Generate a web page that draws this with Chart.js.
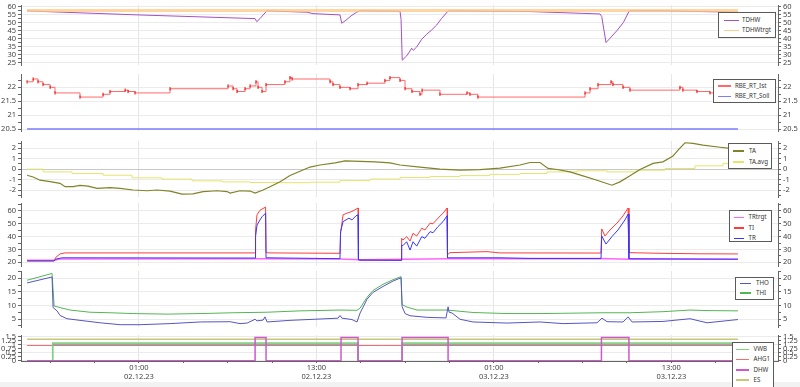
<!DOCTYPE html>
<html>
<head>
<meta charset="utf-8">
<title>Heizung</title>
<script src="https://cdn.jsdelivr.net/npm/chart.js@4.4.1/dist/chart.umd.min.js"></script>
<style>
  html, body { margin: 0; padding: 0; width: 800px; height: 387px; overflow: hidden; background: #f2f2f2; }
  #wrap { position: relative; width: 800px; height: 382px; background: #fff; }
  #wrap canvas { position: absolute; left: 0; }
  .lg { position: absolute; background: #fff; border: 1px solid #5a5a5a; box-sizing: border-box; font: 6.2px "Noto Sans", sans-serif; color: #333; z-index: 5; }
  .lg .t { position: absolute; white-space: nowrap; height: 10px; line-height: 10px; }
  .lg .s { position: absolute; height: 1.5px; }
</style>
</head>
<body>
<div id="wrap"></div>
<script>
// x = hours since 01.12.23 17:26
var startClock = 17 + 26 / 60;
var xMin = -0.41, xMax = 50.78;

// TDHW / TDHWtrgt
var tdhw = [[0,57.3],[7.5,54.8],[15.42,52.5],[15.53,50.6],[15.75,52.5],[16.21,57.3],[18.91,56.5],[19.34,55.6],
  [21.16,54.8],[21.28,49.6],[21.57,51.5],[21.91,54.2],[22.29,56.5],[22.51,57.3],[25.22,57.1],[25.29,52],
  [25.37,26.5],[25.67,29.2],[25.9,32.3],[26.01,34],[26.12,32.7],[26.35,34.8],[26.69,39.6],[27.02,42.7],
  [27.36,45.4],[27.7,48.5],[28.04,52.7],[28.48,57.3],[34.01,56.9],[38.74,55.4],[38.86,53.8],[39.15,37.5],
  [39.42,40.2],[39.87,44.8],[40.32,50],[40.72,57.3],[43,57.3],[48.07,56.5]];
var tdhwTrgt = [[0,57.5],[48.07,57.5]];

// RBE_RT_Ist / RBE_RT_Soll
var rbeIst = [[0,22.2],[0.41,22.3],[0.74,22.2],[1.08,22.1],[1.56,22.0],[1.89,21.8],[3.58,21.65],[5.14,21.75],
  [5.61,21.85],[6.63,21.9],[6.83,21.85],[7.3,21.8],[9.67,21.95],[13.59,22.05],[13.93,21.95],[14.2,21.85],
  [14.74,21.95],[15.08,22.05],[15.48,22.2],[15.62,22.0],[15.89,21.85],[16.16,22.1],[17.44,22.2],[17.78,22.35],
  [17.92,22.3],[20.49,22.2],[20.69,22.1],[21.16,22.0],[21.84,21.95],[22.38,22.1],[22.99,22.15],[24.2,22.25],
  [24.54,22.35],[25.22,22.25],[25.56,21.95],[26.03,21.85],[26.57,21.75],[26.71,21.9],[27.92,21.75],[29.75,21.8],
  [29.95,21.75],[30.49,21.65],[37.73,21.8],[38.07,21.95],[38.61,22.1],[39.49,22.2],[39.62,22.1],[40.3,22.0],
  [40.77,21.9],[44.15,22.0],[44.35,21.9],[45.3,21.85],[46.18,21.8],[48.07,21.8]];
var rbeSoll = [[0,20.5],[48.07,20.5]];

// TA / TA.avg
var ta = [[0,-0.58],[0.41,-0.75],[0.88,-1.06],[1.56,-1.2],[2.23,-1.36],[2.57,-1.68],[3.11,-1.68],[3.58,-1.55],
  [4.12,-1.62],[4.73,-1.84],[5.61,-1.78],[6.29,-1.84],[7.17,-2.0],[8.11,-2.07],[8.79,-2.0],[9.67,-2.1],
  [10.48,-2.4],[11.22,-2.37],[11.9,-2.15],[12.85,-2.07],[13.52,-2.15],[13.73,-2.3],[14.4,-2.07],[15.08,-2.1],
  [15.42,-2.3],[15.96,-2.0],[16.43,-1.68],[17.11,-1.2],[17.78,-0.6],[18.46,-0.2],[19.13,0.2],[19.81,0.4],
  [20.83,0.6],[21.5,0.8],[22.52,0.75],[23.53,0.7],[24.54,0.6],[25.22,0.4],[26.57,0.2],[27.92,0.0],
  [29.28,-0.1],[30.63,-0.05],[31.98,0.1],[33.33,0.4],[34.01,0.64],[34.69,0.64],[35.23,0.07],[35.84,-0.03],
  [36.71,-0.26],[37.59,-0.64],[38.54,-1.06],[39.55,-1.54],[40.09,-1.22],[40.77,-0.64],[41.45,-0.03],
  [42.33,0.55],[43,0.7],[43.68,1.25],[44.02,1.83],[44.49,2.53],[45.03,2.47],[45.71,2.3],[46.86,2.1],
  [47.53,2.0],[48.07,1.95]];
var taAvg = [[0,0.0],[1.08,-0.26],[3.04,-0.42],[5.14,-0.58],[7.1,-0.83],[9.13,-0.96],[11.16,-1.12],[13.18,-1.22],
  [15.08,-1.28],[17.11,-1.3],[19.13,-1.25],[21.16,-1.1],[23.19,-0.95],[25.22,-0.8],[27.25,-0.7],[29.28,-0.62],
  [31.3,-0.5],[33.33,-0.42],[35.16,-0.26],[37.19,-0.16],[39.22,-0.26],[41.24,-0.1],[43.14,0.06],[45.17,0.32],
  [47.06,0.55],[48.07,0.55]];

// TRtrgt / TI / TR
var trTrgt = [[0,21.5],[1.83,21.5],[2.23,22.5],[15.42,22.8],[21.16,22.5],[22.51,22.0],[25.36,22.4],[28.6,22.8],
  [38.74,22.9],[40.77,22.4],[48.07,22.3]];
var ti = [[0,21.2],[1.83,21.2],[1.96,24],[2.23,26.5],[2.57,27.3],[15.42,27.3],[15.45,45],[15.55,57],[15.75,60.5],
  [15.89,61.5],[16.13,63],[16.16,27.5],[16.43,27.3],[21.16,27.0],[21.2,42.6],[21.37,57],[21.64,58.3],[21.97,59.6],
  [22.18,61],[22.38,62.3],[22.41,22],[22.51,21.6],[25.29,21.6],[25.33,38.7],[25.42,37.3],[25.67,40],[25.9,36.5],
  [26.1,42.6],[26.35,40.5],[26.69,46.5],[26.91,45.2],[27.25,50.5],[27.45,50],[27.79,54.4],[28.13,58.3],
  [28.4,62.3],[28.43,26],[28.6,27.5],[31.1,28.3],[31.98,27.3],[38.81,27.2],[38.86,46],[39.08,40.5],[39.42,45.2],
  [39.89,50.5],[40.3,56.2],[40.64,62.3],[40.7,27.5],[42.8,27],[45.5,26.6],[48.07,26.5]];
var tr = [[0,21],[1.83,21],[1.96,22.5],[2.37,23.5],[15.42,23.3],[15.45,40],[15.55,49],[15.75,53],[15.89,55.5],
  [16.13,58.3],[16.16,23.5],[21.16,22.8],[21.2,43.9],[21.37,51.7],[21.77,54.4],[21.97,53],[22.24,56.2],[22.38,57],
  [22.41,21.8],[25.29,21.5],[25.33,33.4],[25.42,33],[25.67,36],[25.9,29.5],[26.1,36],[26.35,32.6],[26.69,40],
  [26.91,38.7],[27.25,43.9],[27.45,43],[27.79,47.8],[28.13,51.7],[28.4,56.2],[28.43,23.5],[31.98,23.5],
  [34.01,23.0],[38.81,22.9],[38.86,40.5],[39.15,34.2],[39.55,40],[39.96,45.2],[40.43,53],[40.64,57.5],
  [40.7,22.8],[44.15,22.6],[48.07,22.4]];

// THO / THI
var tho = [[0,18.3],[1.69,20.5],[1.76,9.2],[2.03,8],[2.23,6.3],[2.7,5.1],[3.58,4.5],[4.94,3.6],[6.29,2.9],
  [7.64,2.9],[9.67,3.3],[11.7,3.9],[13.73,4.0],[14.4,3.3],[14.88,3.5],[15.42,4.9],[15.55,4.3],[15.96,4.6],
  [16.09,5.8],[16.23,3.9],[17.78,4.5],[19.81,5.0],[21.03,5.3],[21.16,6.3],[21.3,5.3],[21.97,4.8],[22.31,3.9],
  [22.38,5.0],[22.52,7.2],[22.99,12.3],[23.39,14.8],[24.07,17],[24.75,19],[25.29,20.2],[25.36,9.6],[25.56,7],
  [25.9,6.2],[27.05,5.6],[28.33,5.4],[28.47,9.5],[28.54,7.5],[28.74,7.2],[29.28,4.9],[30.16,3.9],[32.45,3.5],
  [34.69,3.9],[36.24,3.3],[38.54,3.6],[38.88,5.3],[39.22,4.0],[40.3,3.9],[40.64,5.8],[40.91,3.9],[43,4.1],
  [44.83,5.1],[45.98,3.6],[48.07,4.8]];
var thi = [[0,19.3],[1.69,21.8],[1.83,9.8],[2.23,9.2],[2.91,8.3],[4.26,7.5],[5.61,7.3],[7.17,7.0],[9.47,6.8],
  [11.7,7.0],[13.93,7.3],[16.23,7.5],[18.46,8.0],[21.16,8.3],[22.31,8.2],[22.52,9.0],[22.99,13],[23.39,15.5],
  [24.07,17.8],[24.75,19.5],[25.29,20.6],[25.36,10.3],[25.69,9.4],[26.37,8.3],[28.4,8.3],[30.16,7.4],
  [32.45,7.0],[34.69,7.0],[38.88,7.3],[40.77,7.3],[43,7.7],[44.83,8.3],[45.98,8.1],[48.07,8.0]];

// VWB / AHG1 / DHW / ES
var vwb = [[0,0],[1.73,1.12],[22.38,0],[25.36,1.12],[48.07,1.12]];
var vd1 = [[0,0],[1.73,1.05],[22.38,0],[25.36,1.05],[48.07,1.05]];
var ahg1 = [[0,0.96],[48.07,0.96]];
var dhw = [[0,0],[15.42,1.47],[16.16,0],[21.23,1.47],[22.38,0],[25.36,1.47],[28.47,0],[38.84,1.47],[40.7,0],[48.07,0]];
var es = [[0,1.36],[48.07,1.36]];

Chart.defaults.font.family = "'Noto Sans', sans-serif";
Chart.defaults.font.size = 7.5;
Chart.defaults.color = '#444';

var wrap = document.getElementById('wrap');

function pts(a) { return a.map(function (p) { return { x: p[0], y: p[1] }; }); }
function isMult(v, s) { return Math.abs(v / s - Math.round(v / s)) < 1e-6; }
function line(label, data, color, width, extra) {
  var d = { label: label, data: pts(data), borderColor: color, borderWidth: width, pointRadius: 0, tension: 0, fill: false };
  for (var k in extra) d[k] = extra[k];
  return d;
}

var xTicks = [];
for (var c = 19; c - startClock <= xMax; c += 3) xTicks.push(c - startClock);
function xLabel(v) {
  var c = Math.round(v + startClock);
  if ((c - 1) % 12 !== 0) return '';
  var hh = c % 24, day = 1 + Math.floor(c / 24);
  return [(hh < 10 ? '0' : '') + hh + ':00', '0' + day + '.12.23'];
}

function xAxis(bottom) {
  return {
    type: 'linear', min: xMin, max: xMax,
    afterBuildTicks: function (s) { s.ticks = xTicks.map(function (v) { return { value: v }; }); },
    afterFit: function (s) { s.height = bottom ? 26 : 0; s.paddingLeft = 0; s.paddingRight = 0; },
    ticks: { display: bottom, autoSkip: false, maxRotation: 0, padding: 0, font: { lineHeight: 1.25 }, callback: xLabel },
    grid: {
      drawTicks: bottom, tickLength: 2, tickColor: '#666',
      color: function (ctx) { return ctx.tick && xLabel(ctx.tick.value) !== '' ? '#e6e6e6' : 'rgba(0,0,0,0)'; }
    },
    border: { display: bottom, color: '#666' }
  };
}

function yAxis(p, pos) {
  return {
    position: pos, min: p.min, max: p.max,
    afterBuildTicks: function (s) {
      var t = [];
      for (var v = Math.ceil(p.min / p.minor - 1e-9) * p.minor; v <= p.max + 1e-9; v += p.minor)
        t.push({ value: Math.round(v * 1000) / 1000 });
      s.ticks = t;
    },
    afterFit: function (s) { s.width = pos === 'left' ? 21 : 22; s.paddingTop = 0; s.paddingBottom = 0; },
    ticks: {
      autoSkip: false, padding: 2,
      callback: function (v) { return isMult(v, p.major) ? String(+v.toFixed(2)) : ''; }
    },
    grid: {
      drawOnChartArea: pos === 'left', tickLength: 3, tickColor: '#666',
      color: function (ctx) {
        if (!ctx.tick || !isMult(ctx.tick.value, p.grid)) return 'rgba(0,0,0,0)';
        return p.zero && Math.abs(ctx.tick.value) < 1e-9 ? '#c8c8c8' : '#ebebeb';
      }
    },
    border: { color: '#666' }
  };
}

function panel(p, datasets) {
  var pad = 6;
  var cv = document.createElement('canvas');
  var top = p.top - pad;
  cv.width = 800;
  cv.height = p.bottomAxis ? 387 - top : p.bottom - p.top + 2 * pad;
  cv.style.top = top + 'px';
  wrap.appendChild(cv);
  new Chart(cv, {
    type: 'line',
    data: { datasets: datasets },
    options: {
      responsive: false, devicePixelRatio: 1, animation: false,
      layout: { padding: { top: pad, bottom: p.bottomAxis ? 0 : pad, left: 0, right: 0 } },
      plugins: { legend: { display: false }, tooltip: { enabled: false } },
      scales: { x: xAxis(!!p.bottomAxis), y: yAxis(p, 'left'), y2: yAxis(p, 'right') }
    }
  });
}

function legend(b, items) {
  var box = document.createElement('div');
  box.className = 'lg';
  box.style.left = b.l + 'px'; box.style.top = b.t + 'px';
  box.style.width = b.w + 'px'; box.style.height = b.h + 'px';
  items.forEach(function (it, i) {
    var y = b.y0 + i * b.dy;
    var ln = document.createElement('span');
    ln.className = 's';
    ln.style.left = b.lx + 'px'; ln.style.width = b.lw + 'px'; ln.style.top = (y - 1.5) + 'px';
    ln.style.background = it[1];
    var tx = document.createElement('span');
    tx.className = 't';
    tx.style.left = b.tx + 'px'; tx.style.top = (y - 6) + 'px';
    tx.textContent = it[0];
    box.appendChild(ln); box.appendChild(tx);
  });
  wrap.appendChild(box);
}

var cTdhw = 'rgb(165,80,195)', cTrgt = 'rgba(255,200,130,0.75)';
var cIst = 'rgb(255,105,105)', cSoll = 'rgb(125,125,255)';
var cTa = 'rgb(130,130,40)', cTaAvg = 'rgb(228,228,110)';
var cTrT = 'rgb(255,100,255)', cTi = 'rgb(255,60,60)', cTr = 'rgb(55,55,255)';
var cTho = 'rgb(85,85,195)', cThi = 'rgb(85,180,85)';
var cVwb = 'rgb(125,210,125)', cVd1 = 'rgb(80,165,165)', cAhg = 'rgb(240,110,110)', cDhw = 'rgb(205,90,205)', cEs = 'rgb(200,200,120)';

panel({ top: 5, bottom: 65, min: 23.5, max: 61, major: 5, minor: 2.5, grid: 5 }, [
  line('TDHWtrgt', tdhwTrgt, cTrgt, 3, { order: 0 }),
  line('TDHW', tdhw, cTdhw, 1, { order: 1 })
]);
panel({ top: 74, bottom: 131, min: 20.43, max: 22.48, major: 0.5, minor: 0.25, grid: 0.5 }, [
  line('RBE_RT_Ist', rbeIst, cIst, 1, { stepped: true, pointRadius: 1.6, pointStyle: 'line', rotation: 90,
    pointBorderColor: 'rgb(240,0,0)', pointBorderWidth: 1 }),
  line('RBE_RT_Soll', rbeSoll, cSoll, 1.5)
]);
panel({ top: 141, bottom: 197, min: -2.67, max: 2.7, major: 1, minor: 0.5, grid: 1, zero: true }, [
  line('TA', ta, cTa, 1.2),
  line('TA.avg', taAvg, cTaAvg, 1, { stepped: true })
]);
panel({ top: 203, bottom: 266, min: 17.1, max: 66.2, major: 10, minor: 5, grid: 10 }, [
  line('TR', tr, cTr, 1, { order: 0 }),
  line('TI', ti, cTi, 1, { order: 1 }),
  line('TRtrgt', trTrgt, cTrT, 1.5, { order: 2 })
]);
panel({ top: 271, bottom: 327, min: 2.05, max: 22.7, major: 5, minor: 2.5, grid: 5 }, [
  line('THO', tho, cTho, 1),
  line('THI', thi, cThi, 1)
]);
panel({ top: 335, bottom: 361, min: -0.02, max: 1.625, major: 0.25, minor: 0.25, grid: 0.5, bottomAxis: true }, [
  line('DHW', dhw, cDhw, 1.5, { stepped: true }),
  line('ES', es, cEs, 1.5),
  line('VWB', vwb, cVwb, 1.5, { stepped: true }),
  line('VD1', vd1, cVd1, 1.2, { stepped: true }),
  line('AHG1', ahg1, cAhg, 1)
]);

legend({ l: 718, t: 12, w: 58, h: 26, y0: 8, dy: 10, lx: 5, lw: 15, tx: 23 }, [['TDHW', cTdhw], ['TDHWtrgt', 'rgb(255,205,140)']]);
legend({ l: 713, t: 79, w: 63, h: 24, y0: 6.5, dy: 10.5, lx: 4, lw: 13, tx: 21 }, [['RBE_RT_Ist', cIst], ['RBE_RT_Soll', cSoll]]);
legend({ l: 728, t: 143, w: 44, h: 26, y0: 7.7, dy: 11, lx: 4, lw: 11, tx: 20 }, [['TA', cTa], ['TA.avg', cTaAvg]]);
legend({ l: 729, t: 210, w: 43, h: 32, y0: 7.3, dy: 10.5, lx: 4, lw: 10, tx: 18.5 }, [['TRtrgt', cTrT], ['TI', cTi], ['TR', cTr]]);
legend({ l: 735, t: 277, w: 39, h: 23, y0: 6.3, dy: 9.4, lx: 3.5, lw: 11, tx: 20 }, [['THO', cTho], ['THI', cThi]]);
legend({ l: 732, t: 342, w: 42, h: 60, y0: 7, dy: 10.3, lx: 3, lw: 13, tx: 20.5 }, [['VWB', cVwb], ['AHG1', cAhg], ['DHW', cDhw], ['ES', cEs]]);
</script>
</body>
</html>
